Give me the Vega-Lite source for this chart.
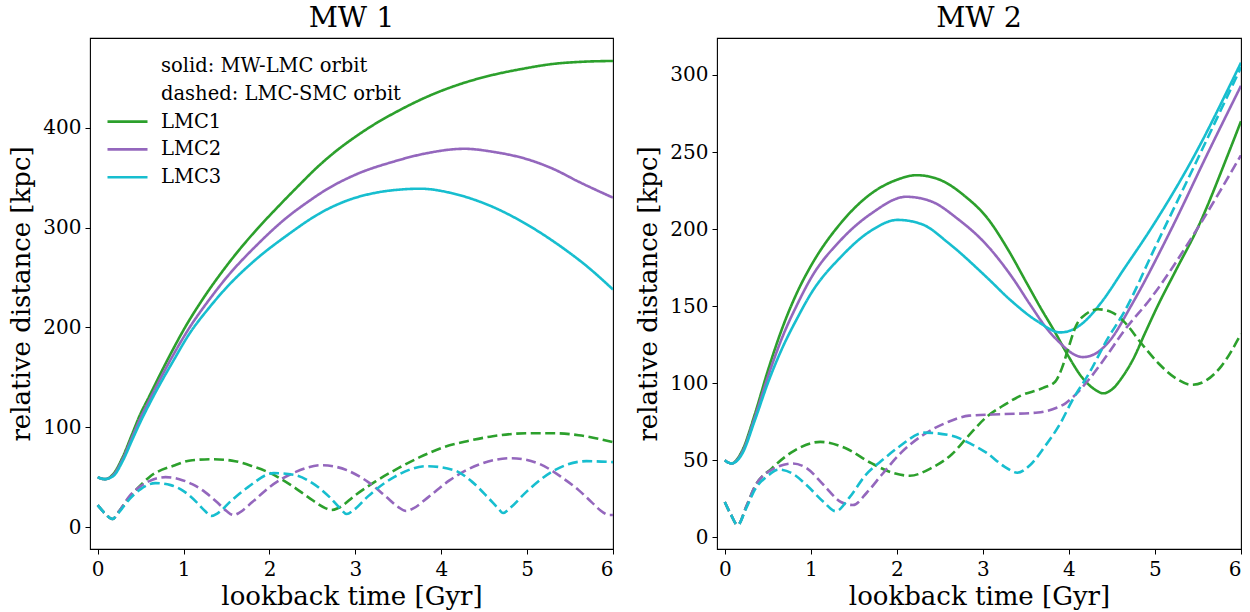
{
"$schema": "https://vega.github.io/schema/vega-lite/v6.json",
"padding": {"left": 8, "top": 2, "right": 5, "bottom": 5},
"background": "white",
"config": {
  "font": "DejaVu Serif",
  "view": {"stroke": "black", "strokeWidth": 1.1},
  "axis": {"grid": false, "domain": false, "tickColor": "black", "tickSize": 5, "tickWidth": 1, "labelFont": "DejaVu Serif", "labelFontSize": 20, "labelColor": "black", "labelPadding": 4, "titleFont": "DejaVu Serif", "titleFontSize": 26, "titleFontWeight": "normal", "titleColor": "black"},
  "axisY": {"titlePadding": 8},
  "axisX": {"labelPadding": 5, "titlePadding": 4},
  "title": {"font": "DejaVu Serif", "fontSize": 28.5, "fontWeight": "normal", "color": "black", "anchor": "middle", "offset": 6},
  "line": {"strokeWidth": 2.6, "interpolate": "monotone"}
},
"data": {"values": [
{"panel":"MW 1","model":"LMC1","orbit":"solid","t":0,"r":50},{"panel":"MW 1","model":"LMC1","orbit":"solid","t":0.08,"r":48},{"panel":"MW 1","model":"LMC1","orbit":"solid","t":0.18,"r":53},{"panel":"MW 1","model":"LMC1","orbit":"solid","t":0.29,"r":70},{"panel":"MW 1","model":"LMC1","orbit":"solid","t":0.4,"r":93},{"panel":"MW 1","model":"LMC1","orbit":"solid","t":0.49,"r":112},{"panel":"MW 1","model":"LMC1","orbit":"solid","t":0.6,"r":131},{"panel":"MW 1","model":"LMC1","orbit":"solid","t":0.75,"r":157},{"panel":"MW 1","model":"LMC1","orbit":"solid","t":0.87,"r":177},{"panel":"MW 1","model":"LMC1","orbit":"solid","t":1.03,"r":202},{"panel":"MW 1","model":"LMC1","orbit":"solid","t":1.22,"r":228},{"panel":"MW 1","model":"LMC1","orbit":"solid","t":1.45,"r":256},{"panel":"MW 1","model":"LMC1","orbit":"solid","t":1.65,"r":278},{"panel":"MW 1","model":"LMC1","orbit":"solid","t":1.85,"r":298},{"panel":"MW 1","model":"LMC1","orbit":"solid","t":2.1,"r":321},{"panel":"MW 1","model":"LMC1","orbit":"solid","t":2.35,"r":343},{"panel":"MW 1","model":"LMC1","orbit":"solid","t":2.55,"r":360},{"panel":"MW 1","model":"LMC1","orbit":"solid","t":2.75,"r":375},{"panel":"MW 1","model":"LMC1","orbit":"solid","t":3.0,"r":391},{"panel":"MW 1","model":"LMC1","orbit":"solid","t":3.25,"r":405},{"panel":"MW 1","model":"LMC1","orbit":"solid","t":3.5,"r":417},{"panel":"MW 1","model":"LMC1","orbit":"solid","t":3.78,"r":429},{"panel":"MW 1","model":"LMC1","orbit":"solid","t":4.0,"r":437},{"panel":"MW 1","model":"LMC1","orbit":"solid","t":4.3,"r":446},{"panel":"MW 1","model":"LMC1","orbit":"solid","t":4.6,"r":453},{"panel":"MW 1","model":"LMC1","orbit":"solid","t":4.94,"r":459},{"panel":"MW 1","model":"LMC1","orbit":"solid","t":5.3,"r":464},{"panel":"MW 1","model":"LMC1","orbit":"solid","t":5.6,"r":466},{"panel":"MW 1","model":"LMC1","orbit":"solid","t":6.0,"r":467},
{"panel":"MW 1","model":"LMC2","orbit":"solid","t":0,"r":50},{"panel":"MW 1","model":"LMC2","orbit":"solid","t":0.08,"r":48},{"panel":"MW 1","model":"LMC2","orbit":"solid","t":0.18,"r":52},{"panel":"MW 1","model":"LMC2","orbit":"solid","t":0.29,"r":68},{"panel":"MW 1","model":"LMC2","orbit":"solid","t":0.4,"r":90},{"panel":"MW 1","model":"LMC2","orbit":"solid","t":0.49,"r":108},{"panel":"MW 1","model":"LMC2","orbit":"solid","t":0.6,"r":127},{"panel":"MW 1","model":"LMC2","orbit":"solid","t":0.75,"r":152},{"panel":"MW 1","model":"LMC2","orbit":"solid","t":0.87,"r":171},{"panel":"MW 1","model":"LMC2","orbit":"solid","t":1.07,"r":200},{"panel":"MW 1","model":"LMC2","orbit":"solid","t":1.3,"r":228},{"panel":"MW 1","model":"LMC2","orbit":"solid","t":1.5,"r":250},{"panel":"MW 1","model":"LMC2","orbit":"solid","t":1.87,"r":284},{"panel":"MW 1","model":"LMC2","orbit":"solid","t":2.2,"r":310},{"panel":"MW 1","model":"LMC2","orbit":"solid","t":2.45,"r":326},{"panel":"MW 1","model":"LMC2","orbit":"solid","t":2.66,"r":338},{"panel":"MW 1","model":"LMC2","orbit":"solid","t":3.0,"r":353},{"panel":"MW 1","model":"LMC2","orbit":"solid","t":3.44,"r":366},{"panel":"MW 1","model":"LMC2","orbit":"solid","t":3.8,"r":374},{"panel":"MW 1","model":"LMC2","orbit":"solid","t":4.27,"r":379},{"panel":"MW 1","model":"LMC2","orbit":"solid","t":4.6,"r":376},{"panel":"MW 1","model":"LMC2","orbit":"solid","t":5.02,"r":368},{"panel":"MW 1","model":"LMC2","orbit":"solid","t":5.3,"r":359},{"panel":"MW 1","model":"LMC2","orbit":"solid","t":5.6,"r":346},{"panel":"MW 1","model":"LMC2","orbit":"solid","t":6.0,"r":330},
{"panel":"MW 1","model":"LMC3","orbit":"solid","t":0,"r":50},{"panel":"MW 1","model":"LMC3","orbit":"solid","t":0.08,"r":48},{"panel":"MW 1","model":"LMC3","orbit":"solid","t":0.18,"r":51},{"panel":"MW 1","model":"LMC3","orbit":"solid","t":0.29,"r":66},{"panel":"MW 1","model":"LMC3","orbit":"solid","t":0.4,"r":87},{"panel":"MW 1","model":"LMC3","orbit":"solid","t":0.49,"r":104},{"panel":"MW 1","model":"LMC3","orbit":"solid","t":0.6,"r":123},{"panel":"MW 1","model":"LMC3","orbit":"solid","t":0.75,"r":147},{"panel":"MW 1","model":"LMC3","orbit":"solid","t":0.87,"r":165},{"panel":"MW 1","model":"LMC3","orbit":"solid","t":1.07,"r":194},{"panel":"MW 1","model":"LMC3","orbit":"solid","t":1.3,"r":220},{"panel":"MW 1","model":"LMC3","orbit":"solid","t":1.5,"r":240},{"panel":"MW 1","model":"LMC3","orbit":"solid","t":1.84,"r":268},{"panel":"MW 1","model":"LMC3","orbit":"solid","t":2.2,"r":292},{"panel":"MW 1","model":"LMC3","orbit":"solid","t":2.62,"r":316},{"panel":"MW 1","model":"LMC3","orbit":"solid","t":2.9,"r":327},{"panel":"MW 1","model":"LMC3","orbit":"solid","t":3.24,"r":335},{"panel":"MW 1","model":"LMC3","orbit":"solid","t":3.5,"r":338},{"panel":"MW 1","model":"LMC3","orbit":"solid","t":3.76,"r":339},{"panel":"MW 1","model":"LMC3","orbit":"solid","t":4.1,"r":335},{"panel":"MW 1","model":"LMC3","orbit":"solid","t":4.35,"r":329},{"panel":"MW 1","model":"LMC3","orbit":"solid","t":4.62,"r":320},{"panel":"MW 1","model":"LMC3","orbit":"solid","t":5.0,"r":303},{"panel":"MW 1","model":"LMC3","orbit":"solid","t":5.41,"r":280},{"panel":"MW 1","model":"LMC3","orbit":"solid","t":5.7,"r":261},{"panel":"MW 1","model":"LMC3","orbit":"solid","t":6.0,"r":238},
{"panel":"MW 1","model":"LMC1","orbit":"dashed","t":0,"r":22},{"panel":"MW 1","model":"LMC1","orbit":"dashed","t":0.08,"r":14},{"panel":"MW 1","model":"LMC1","orbit":"dashed","t":0.17,"r":8},{"panel":"MW 1","model":"LMC1","orbit":"dashed","t":0.25,"r":16},{"panel":"MW 1","model":"LMC1","orbit":"dashed","t":0.37,"r":30},{"panel":"MW 1","model":"LMC1","orbit":"dashed","t":0.5,"r":42},{"panel":"MW 1","model":"LMC1","orbit":"dashed","t":0.6,"r":50},{"panel":"MW 1","model":"LMC1","orbit":"dashed","t":0.9,"r":62},{"panel":"MW 1","model":"LMC1","orbit":"dashed","t":1.1,"r":67},{"panel":"MW 1","model":"LMC1","orbit":"dashed","t":1.34,"r":68},{"panel":"MW 1","model":"LMC1","orbit":"dashed","t":1.6,"r":66},{"panel":"MW 1","model":"LMC1","orbit":"dashed","t":1.8,"r":61},{"panel":"MW 1","model":"LMC1","orbit":"dashed","t":2.01,"r":54},{"panel":"MW 1","model":"LMC1","orbit":"dashed","t":2.25,"r":42},{"panel":"MW 1","model":"LMC1","orbit":"dashed","t":2.45,"r":30},{"panel":"MW 1","model":"LMC1","orbit":"dashed","t":2.65,"r":19},{"panel":"MW 1","model":"LMC1","orbit":"dashed","t":2.72,"r":17},{"panel":"MW 1","model":"LMC1","orbit":"dashed","t":2.8,"r":19},{"panel":"MW 1","model":"LMC1","orbit":"dashed","t":3.0,"r":32},{"panel":"MW 1","model":"LMC1","orbit":"dashed","t":3.24,"r":46},{"panel":"MW 1","model":"LMC1","orbit":"dashed","t":3.5,"r":59},{"panel":"MW 1","model":"LMC1","orbit":"dashed","t":3.75,"r":70},{"panel":"MW 1","model":"LMC1","orbit":"dashed","t":4.03,"r":80},{"panel":"MW 1","model":"LMC1","orbit":"dashed","t":4.3,"r":86},{"panel":"MW 1","model":"LMC1","orbit":"dashed","t":4.6,"r":91},{"panel":"MW 1","model":"LMC1","orbit":"dashed","t":5.01,"r":94},{"panel":"MW 1","model":"LMC1","orbit":"dashed","t":5.3,"r":94},{"panel":"MW 1","model":"LMC1","orbit":"dashed","t":5.6,"r":92},{"panel":"MW 1","model":"LMC1","orbit":"dashed","t":6.0,"r":85},
{"panel":"MW 1","model":"LMC2","orbit":"dashed","t":0,"r":22},{"panel":"MW 1","model":"LMC2","orbit":"dashed","t":0.08,"r":14},{"panel":"MW 1","model":"LMC2","orbit":"dashed","t":0.17,"r":8},{"panel":"MW 1","model":"LMC2","orbit":"dashed","t":0.25,"r":16},{"panel":"MW 1","model":"LMC2","orbit":"dashed","t":0.37,"r":31},{"panel":"MW 1","model":"LMC2","orbit":"dashed","t":0.5,"r":41},{"panel":"MW 1","model":"LMC2","orbit":"dashed","t":0.6,"r":46},{"panel":"MW 1","model":"LMC2","orbit":"dashed","t":0.79,"r":50},{"panel":"MW 1","model":"LMC2","orbit":"dashed","t":0.95,"r":48},{"panel":"MW 1","model":"LMC2","orbit":"dashed","t":1.1,"r":43},{"panel":"MW 1","model":"LMC2","orbit":"dashed","t":1.25,"r":35},{"panel":"MW 1","model":"LMC2","orbit":"dashed","t":1.4,"r":24},{"panel":"MW 1","model":"LMC2","orbit":"dashed","t":1.5,"r":16},{"panel":"MW 1","model":"LMC2","orbit":"dashed","t":1.58,"r":12},{"panel":"MW 1","model":"LMC2","orbit":"dashed","t":1.66,"r":15},{"panel":"MW 1","model":"LMC2","orbit":"dashed","t":1.8,"r":25},{"panel":"MW 1","model":"LMC2","orbit":"dashed","t":2.0,"r":40},{"panel":"MW 1","model":"LMC2","orbit":"dashed","t":2.3,"r":55},{"panel":"MW 1","model":"LMC2","orbit":"dashed","t":2.61,"r":62},{"panel":"MW 1","model":"LMC2","orbit":"dashed","t":2.9,"r":57},{"panel":"MW 1","model":"LMC2","orbit":"dashed","t":3.15,"r":45},{"panel":"MW 1","model":"LMC2","orbit":"dashed","t":3.35,"r":31},{"panel":"MW 1","model":"LMC2","orbit":"dashed","t":3.5,"r":20},{"panel":"MW 1","model":"LMC2","orbit":"dashed","t":3.59,"r":16},{"panel":"MW 1","model":"LMC2","orbit":"dashed","t":3.68,"r":19},{"panel":"MW 1","model":"LMC2","orbit":"dashed","t":3.85,"r":30},{"panel":"MW 1","model":"LMC2","orbit":"dashed","t":4.1,"r":47},{"panel":"MW 1","model":"LMC2","orbit":"dashed","t":4.45,"r":63},{"panel":"MW 1","model":"LMC2","orbit":"dashed","t":4.82,"r":69},{"panel":"MW 1","model":"LMC2","orbit":"dashed","t":5.15,"r":63},{"panel":"MW 1","model":"LMC2","orbit":"dashed","t":5.4,"r":50},{"panel":"MW 1","model":"LMC2","orbit":"dashed","t":5.6,"r":37},{"panel":"MW 1","model":"LMC2","orbit":"dashed","t":5.75,"r":25},{"panel":"MW 1","model":"LMC2","orbit":"dashed","t":5.88,"r":15},{"panel":"MW 1","model":"LMC2","orbit":"dashed","t":5.96,"r":12},{"panel":"MW 1","model":"LMC2","orbit":"dashed","t":6.0,"r":12},
{"panel":"MW 1","model":"LMC3","orbit":"dashed","t":0,"r":22},{"panel":"MW 1","model":"LMC3","orbit":"dashed","t":0.08,"r":14},{"panel":"MW 1","model":"LMC3","orbit":"dashed","t":0.17,"r":8},{"panel":"MW 1","model":"LMC3","orbit":"dashed","t":0.25,"r":15},{"panel":"MW 1","model":"LMC3","orbit":"dashed","t":0.37,"r":28},{"panel":"MW 1","model":"LMC3","orbit":"dashed","t":0.5,"r":38},{"panel":"MW 1","model":"LMC3","orbit":"dashed","t":0.67,"r":44},{"panel":"MW 1","model":"LMC3","orbit":"dashed","t":0.85,"r":42},{"panel":"MW 1","model":"LMC3","orbit":"dashed","t":1.0,"r":36},{"panel":"MW 1","model":"LMC3","orbit":"dashed","t":1.15,"r":25},{"panel":"MW 1","model":"LMC3","orbit":"dashed","t":1.25,"r":16},{"panel":"MW 1","model":"LMC3","orbit":"dashed","t":1.32,"r":11},{"panel":"MW 1","model":"LMC3","orbit":"dashed","t":1.4,"r":14},{"panel":"MW 1","model":"LMC3","orbit":"dashed","t":1.55,"r":26},{"panel":"MW 1","model":"LMC3","orbit":"dashed","t":1.75,"r":40},{"panel":"MW 1","model":"LMC3","orbit":"dashed","t":2.05,"r":54},{"panel":"MW 1","model":"LMC3","orbit":"dashed","t":2.3,"r":52},{"panel":"MW 1","model":"LMC3","orbit":"dashed","t":2.5,"r":44},{"panel":"MW 1","model":"LMC3","orbit":"dashed","t":2.7,"r":30},{"panel":"MW 1","model":"LMC3","orbit":"dashed","t":2.82,"r":19},{"panel":"MW 1","model":"LMC3","orbit":"dashed","t":2.9,"r":13},{"panel":"MW 1","model":"LMC3","orbit":"dashed","t":2.98,"r":17},{"panel":"MW 1","model":"LMC3","orbit":"dashed","t":3.15,"r":31},{"panel":"MW 1","model":"LMC3","orbit":"dashed","t":3.45,"r":50},{"panel":"MW 1","model":"LMC3","orbit":"dashed","t":3.83,"r":61},{"panel":"MW 1","model":"LMC3","orbit":"dashed","t":4.15,"r":57},{"panel":"MW 1","model":"LMC3","orbit":"dashed","t":4.35,"r":46},{"panel":"MW 1","model":"LMC3","orbit":"dashed","t":4.55,"r":29},{"panel":"MW 1","model":"LMC3","orbit":"dashed","t":4.66,"r":19},{"panel":"MW 1","model":"LMC3","orbit":"dashed","t":4.72,"r":14},{"panel":"MW 1","model":"LMC3","orbit":"dashed","t":4.8,"r":19},{"panel":"MW 1","model":"LMC3","orbit":"dashed","t":5.0,"r":36},{"panel":"MW 1","model":"LMC3","orbit":"dashed","t":5.3,"r":56},{"panel":"MW 1","model":"LMC3","orbit":"dashed","t":5.69,"r":66},{"panel":"MW 1","model":"LMC3","orbit":"dashed","t":6.0,"r":65},
{"panel":"MW 2","model":"LMC1","orbit":"solid","t":0,"r":50},{"panel":"MW 2","model":"LMC1","orbit":"solid","t":0.08,"r":48},{"panel":"MW 2","model":"LMC1","orbit":"solid","t":0.2,"r":56},{"panel":"MW 2","model":"LMC1","orbit":"solid","t":0.35,"r":80},{"panel":"MW 2","model":"LMC1","orbit":"solid","t":0.5,"r":108},{"panel":"MW 2","model":"LMC1","orbit":"solid","t":0.67,"r":136},{"panel":"MW 2","model":"LMC1","orbit":"solid","t":0.85,"r":160},{"panel":"MW 2","model":"LMC1","orbit":"solid","t":1.0,"r":176},{"panel":"MW 2","model":"LMC1","orbit":"solid","t":1.35,"r":204},{"panel":"MW 2","model":"LMC1","orbit":"solid","t":1.7,"r":223},{"panel":"MW 2","model":"LMC1","orbit":"solid","t":2.0,"r":232},{"panel":"MW 2","model":"LMC1","orbit":"solid","t":2.23,"r":235},{"panel":"MW 2","model":"LMC1","orbit":"solid","t":2.5,"r":232},{"panel":"MW 2","model":"LMC1","orbit":"solid","t":2.8,"r":221},{"panel":"MW 2","model":"LMC1","orbit":"solid","t":3.04,"r":208},{"panel":"MW 2","model":"LMC1","orbit":"solid","t":3.3,"r":186},{"panel":"MW 2","model":"LMC1","orbit":"solid","t":3.5,"r":166},{"panel":"MW 2","model":"LMC1","orbit":"solid","t":3.66,"r":150},{"panel":"MW 2","model":"LMC1","orbit":"solid","t":3.84,"r":133},{"panel":"MW 2","model":"LMC1","orbit":"solid","t":4.0,"r":117},{"panel":"MW 2","model":"LMC1","orbit":"solid","t":4.15,"r":104},{"panel":"MW 2","model":"LMC1","orbit":"solid","t":4.3,"r":96},{"panel":"MW 2","model":"LMC1","orbit":"solid","t":4.4,"r":93.5},{"panel":"MW 2","model":"LMC1","orbit":"solid","t":4.5,"r":96},{"panel":"MW 2","model":"LMC1","orbit":"solid","t":4.62,"r":104},{"panel":"MW 2","model":"LMC1","orbit":"solid","t":4.75,"r":116},{"panel":"MW 2","model":"LMC1","orbit":"solid","t":4.88,"r":132},{"panel":"MW 2","model":"LMC1","orbit":"solid","t":5.03,"r":150},{"panel":"MW 2","model":"LMC1","orbit":"solid","t":5.25,"r":174},{"panel":"MW 2","model":"LMC1","orbit":"solid","t":5.49,"r":200},{"panel":"MW 2","model":"LMC1","orbit":"solid","t":5.86,"r":250},{"panel":"MW 2","model":"LMC1","orbit":"solid","t":6.0,"r":270},
{"panel":"MW 2","model":"LMC2","orbit":"solid","t":0,"r":50},{"panel":"MW 2","model":"LMC2","orbit":"solid","t":0.08,"r":48},{"panel":"MW 2","model":"LMC2","orbit":"solid","t":0.2,"r":55},{"panel":"MW 2","model":"LMC2","orbit":"solid","t":0.35,"r":78},{"panel":"MW 2","model":"LMC2","orbit":"solid","t":0.5,"r":104},{"panel":"MW 2","model":"LMC2","orbit":"solid","t":0.67,"r":130},{"panel":"MW 2","model":"LMC2","orbit":"solid","t":0.85,"r":152},{"panel":"MW 2","model":"LMC2","orbit":"solid","t":1.0,"r":168},{"panel":"MW 2","model":"LMC2","orbit":"solid","t":1.35,"r":193},{"panel":"MW 2","model":"LMC2","orbit":"solid","t":1.7,"r":210},{"panel":"MW 2","model":"LMC2","orbit":"solid","t":2.11,"r":221},{"panel":"MW 2","model":"LMC2","orbit":"solid","t":2.4,"r":218},{"panel":"MW 2","model":"LMC2","orbit":"solid","t":2.7,"r":207},{"panel":"MW 2","model":"LMC2","orbit":"solid","t":3.04,"r":190},{"panel":"MW 2","model":"LMC2","orbit":"solid","t":3.35,"r":168},{"panel":"MW 2","model":"LMC2","orbit":"solid","t":3.55,"r":151},{"panel":"MW 2","model":"LMC2","orbit":"solid","t":3.75,"r":135},{"panel":"MW 2","model":"LMC2","orbit":"solid","t":3.9,"r":126},{"panel":"MW 2","model":"LMC2","orbit":"solid","t":4.05,"r":119},{"panel":"MW 2","model":"LMC2","orbit":"solid","t":4.16,"r":117},{"panel":"MW 2","model":"LMC2","orbit":"solid","t":4.3,"r":119},{"panel":"MW 2","model":"LMC2","orbit":"solid","t":4.48,"r":128},{"panel":"MW 2","model":"LMC2","orbit":"solid","t":4.72,"r":150},{"panel":"MW 2","model":"LMC2","orbit":"solid","t":5.19,"r":200},{"panel":"MW 2","model":"LMC2","orbit":"solid","t":5.62,"r":250},{"panel":"MW 2","model":"LMC2","orbit":"solid","t":6.0,"r":293},
{"panel":"MW 2","model":"LMC3","orbit":"solid","t":0,"r":50},{"panel":"MW 2","model":"LMC3","orbit":"solid","t":0.08,"r":48},{"panel":"MW 2","model":"LMC3","orbit":"solid","t":0.2,"r":54},{"panel":"MW 2","model":"LMC3","orbit":"solid","t":0.35,"r":76},{"panel":"MW 2","model":"LMC3","orbit":"solid","t":0.5,"r":100},{"panel":"MW 2","model":"LMC3","orbit":"solid","t":0.67,"r":123},{"panel":"MW 2","model":"LMC3","orbit":"solid","t":0.85,"r":143},{"panel":"MW 2","model":"LMC3","orbit":"solid","t":1.0,"r":158},{"panel":"MW 2","model":"LMC3","orbit":"solid","t":1.35,"r":182},{"panel":"MW 2","model":"LMC3","orbit":"solid","t":1.7,"r":199},{"panel":"MW 2","model":"LMC3","orbit":"solid","t":2.01,"r":206},{"panel":"MW 2","model":"LMC3","orbit":"solid","t":2.3,"r":203},{"panel":"MW 2","model":"LMC3","orbit":"solid","t":2.6,"r":191},{"panel":"MW 2","model":"LMC3","orbit":"solid","t":3.04,"r":169},{"panel":"MW 2","model":"LMC3","orbit":"solid","t":3.32,"r":154},{"panel":"MW 2","model":"LMC3","orbit":"solid","t":3.64,"r":140},{"panel":"MW 2","model":"LMC3","orbit":"solid","t":3.9,"r":133},{"panel":"MW 2","model":"LMC3","orbit":"solid","t":4.05,"r":135},{"panel":"MW 2","model":"LMC3","orbit":"solid","t":4.2,"r":141},{"panel":"MW 2","model":"LMC3","orbit":"solid","t":4.37,"r":152},{"panel":"MW 2","model":"LMC3","orbit":"solid","t":4.65,"r":175},{"panel":"MW 2","model":"LMC3","orbit":"solid","t":4.95,"r":200},{"panel":"MW 2","model":"LMC3","orbit":"solid","t":5.48,"r":250},{"panel":"MW 2","model":"LMC3","orbit":"solid","t":5.93,"r":300},{"panel":"MW 2","model":"LMC3","orbit":"solid","t":6.0,"r":308},
{"panel":"MW 2","model":"LMC1","orbit":"dashed","t":0,"r":23},{"panel":"MW 2","model":"LMC1","orbit":"dashed","t":0.07,"r":15},{"panel":"MW 2","model":"LMC1","orbit":"dashed","t":0.15,"r":8},{"panel":"MW 2","model":"LMC1","orbit":"dashed","t":0.25,"r":20},{"panel":"MW 2","model":"LMC1","orbit":"dashed","t":0.35,"r":33},{"panel":"MW 2","model":"LMC1","orbit":"dashed","t":0.55,"r":45},{"panel":"MW 2","model":"LMC1","orbit":"dashed","t":0.8,"r":56},{"panel":"MW 2","model":"LMC1","orbit":"dashed","t":1.11,"r":62},{"panel":"MW 2","model":"LMC1","orbit":"dashed","t":1.4,"r":58},{"panel":"MW 2","model":"LMC1","orbit":"dashed","t":1.71,"r":48},{"panel":"MW 2","model":"LMC1","orbit":"dashed","t":1.95,"r":42},{"panel":"MW 2","model":"LMC1","orbit":"dashed","t":2.15,"r":40},{"panel":"MW 2","model":"LMC1","orbit":"dashed","t":2.4,"r":45},{"panel":"MW 2","model":"LMC1","orbit":"dashed","t":2.64,"r":54},{"panel":"MW 2","model":"LMC1","orbit":"dashed","t":2.85,"r":67},{"panel":"MW 2","model":"LMC1","orbit":"dashed","t":3.04,"r":78},{"panel":"MW 2","model":"LMC1","orbit":"dashed","t":3.25,"r":86},{"panel":"MW 2","model":"LMC1","orbit":"dashed","t":3.44,"r":92},{"panel":"MW 2","model":"LMC1","orbit":"dashed","t":3.7,"r":97},{"panel":"MW 2","model":"LMC1","orbit":"dashed","t":3.84,"r":101},{"panel":"MW 2","model":"LMC1","orbit":"dashed","t":3.92,"r":110},{"panel":"MW 2","model":"LMC1","orbit":"dashed","t":4.0,"r":124},{"panel":"MW 2","model":"LMC1","orbit":"dashed","t":4.08,"r":137},{"panel":"MW 2","model":"LMC1","orbit":"dashed","t":4.2,"r":145},{"panel":"MW 2","model":"LMC1","orbit":"dashed","t":4.34,"r":148},{"panel":"MW 2","model":"LMC1","orbit":"dashed","t":4.5,"r":146},{"panel":"MW 2","model":"LMC1","orbit":"dashed","t":4.64,"r":140},{"panel":"MW 2","model":"LMC1","orbit":"dashed","t":4.84,"r":126},{"panel":"MW 2","model":"LMC1","orbit":"dashed","t":5.04,"r":113},{"panel":"MW 2","model":"LMC1","orbit":"dashed","t":5.25,"r":103},{"panel":"MW 2","model":"LMC1","orbit":"dashed","t":5.43,"r":99},{"panel":"MW 2","model":"LMC1","orbit":"dashed","t":5.6,"r":102},{"panel":"MW 2","model":"LMC1","orbit":"dashed","t":5.77,"r":111},{"panel":"MW 2","model":"LMC1","orbit":"dashed","t":6.0,"r":132},
{"panel":"MW 2","model":"LMC2","orbit":"dashed","t":0,"r":23},{"panel":"MW 2","model":"LMC2","orbit":"dashed","t":0.07,"r":15},{"panel":"MW 2","model":"LMC2","orbit":"dashed","t":0.15,"r":8},{"panel":"MW 2","model":"LMC2","orbit":"dashed","t":0.25,"r":20},{"panel":"MW 2","model":"LMC2","orbit":"dashed","t":0.35,"r":33},{"panel":"MW 2","model":"LMC2","orbit":"dashed","t":0.55,"r":44},{"panel":"MW 2","model":"LMC2","orbit":"dashed","t":0.79,"r":48},{"panel":"MW 2","model":"LMC2","orbit":"dashed","t":0.95,"r":45},{"panel":"MW 2","model":"LMC2","orbit":"dashed","t":1.15,"r":34},{"panel":"MW 2","model":"LMC2","orbit":"dashed","t":1.35,"r":23},{"panel":"MW 2","model":"LMC2","orbit":"dashed","t":1.49,"r":21},{"panel":"MW 2","model":"LMC2","orbit":"dashed","t":1.65,"r":29},{"panel":"MW 2","model":"LMC2","orbit":"dashed","t":1.83,"r":41},{"panel":"MW 2","model":"LMC2","orbit":"dashed","t":2.05,"r":55},{"panel":"MW 2","model":"LMC2","orbit":"dashed","t":2.32,"r":67},{"panel":"MW 2","model":"LMC2","orbit":"dashed","t":2.6,"r":75},{"panel":"MW 2","model":"LMC2","orbit":"dashed","t":2.84,"r":79},{"panel":"MW 2","model":"LMC2","orbit":"dashed","t":3.24,"r":80},{"panel":"MW 2","model":"LMC2","orbit":"dashed","t":3.64,"r":81},{"panel":"MW 2","model":"LMC2","orbit":"dashed","t":3.85,"r":84},{"panel":"MW 2","model":"LMC2","orbit":"dashed","t":3.96,"r":87},{"panel":"MW 2","model":"LMC2","orbit":"dashed","t":4.1,"r":94},{"panel":"MW 2","model":"LMC2","orbit":"dashed","t":4.24,"r":103},{"panel":"MW 2","model":"LMC2","orbit":"dashed","t":4.44,"r":118},{"panel":"MW 2","model":"LMC2","orbit":"dashed","t":4.64,"r":134},{"panel":"MW 2","model":"LMC2","orbit":"dashed","t":4.95,"r":155},{"panel":"MW 2","model":"LMC2","orbit":"dashed","t":5.5,"r":201},{"panel":"MW 2","model":"LMC2","orbit":"dashed","t":6.0,"r":248},
{"panel":"MW 2","model":"LMC3","orbit":"dashed","t":0,"r":23},{"panel":"MW 2","model":"LMC3","orbit":"dashed","t":0.07,"r":15},{"panel":"MW 2","model":"LMC3","orbit":"dashed","t":0.15,"r":8},{"panel":"MW 2","model":"LMC3","orbit":"dashed","t":0.25,"r":19},{"panel":"MW 2","model":"LMC3","orbit":"dashed","t":0.35,"r":31},{"panel":"MW 2","model":"LMC3","orbit":"dashed","t":0.5,"r":40},{"panel":"MW 2","model":"LMC3","orbit":"dashed","t":0.63,"r":44},{"panel":"MW 2","model":"LMC3","orbit":"dashed","t":0.8,"r":41},{"panel":"MW 2","model":"LMC3","orbit":"dashed","t":0.95,"r":34},{"panel":"MW 2","model":"LMC3","orbit":"dashed","t":1.15,"r":23},{"panel":"MW 2","model":"LMC3","orbit":"dashed","t":1.29,"r":17},{"panel":"MW 2","model":"LMC3","orbit":"dashed","t":1.45,"r":26},{"panel":"MW 2","model":"LMC3","orbit":"dashed","t":1.63,"r":40},{"panel":"MW 2","model":"LMC3","orbit":"dashed","t":1.85,"r":51},{"panel":"MW 2","model":"LMC3","orbit":"dashed","t":2.03,"r":59},{"panel":"MW 2","model":"LMC3","orbit":"dashed","t":2.32,"r":68},{"panel":"MW 2","model":"LMC3","orbit":"dashed","t":2.64,"r":66},{"panel":"MW 2","model":"LMC3","orbit":"dashed","t":2.85,"r":61},{"panel":"MW 2","model":"LMC3","orbit":"dashed","t":3.04,"r":55},{"panel":"MW 2","model":"LMC3","orbit":"dashed","t":3.25,"r":46},{"panel":"MW 2","model":"LMC3","orbit":"dashed","t":3.4,"r":42},{"panel":"MW 2","model":"LMC3","orbit":"dashed","t":3.55,"r":47},{"panel":"MW 2","model":"LMC3","orbit":"dashed","t":3.72,"r":59},{"panel":"MW 2","model":"LMC3","orbit":"dashed","t":3.9,"r":74},{"panel":"MW 2","model":"LMC3","orbit":"dashed","t":4.04,"r":89},{"panel":"MW 2","model":"LMC3","orbit":"dashed","t":4.24,"r":107},{"panel":"MW 2","model":"LMC3","orbit":"dashed","t":4.44,"r":128},{"panel":"MW 2","model":"LMC3","orbit":"dashed","t":4.64,"r":146},{"panel":"MW 2","model":"LMC3","orbit":"dashed","t":5.0,"r":188},{"panel":"MW 2","model":"LMC3","orbit":"dashed","t":5.5,"r":246},{"panel":"MW 2","model":"LMC3","orbit":"dashed","t":6.0,"r":305}
]},
"spacing": 20,
"resolve": {"scale": {"y": "independent"}, "legend": {"color": "independent"}},
"hconcat": [
  {
    "title": "MW 1",
    "width": 523, "height": 511,
    "transform": [{"filter": "datum.panel == 'MW 1'"}],
    "mark": {"type": "line", "clip": true},
    "encoding": {
      "x": {"field": "t", "type": "quantitative", "scale": {"domain": [-0.09, 6], "nice": false, "zero": false}, "axis": {"values": [0,1,2,3,4,5,6], "title": "lookback time [Gyr]"}},
      "y": {"field": "r", "type": "quantitative", "scale": {"domain": [-22, 490], "nice": false, "zero": false}, "axis": {"values": [0,100,200,300,400], "title": "relative distance [kpc]"}},
      "color": {"field": "model", "type": "nominal", "scale": {"domain": ["solid: MW-LMC orbit", "dashed: LMC-SMC orbit", "LMC1", "LMC2", "LMC3"], "range": ["rgba(0,0,0,0)", "rgba(0,0,0,0)", "#2ca02c", "#9467bd", "#17becf"]},
        "legend": {"title": null, "orient": "top-left", "offset": 16, "padding": 0, "symbolType": "stroke", "symbolSize": 1600, "symbolStrokeWidth": 3, "clipHeight": 24, "rowPadding": 3.8, "labelOffset": 12, "labelFont": "DejaVu Serif", "labelFontSize": 19.5, "labelColor": "black", "labelLimit": 400}},
      "strokeDash": {"field": "orbit", "type": "nominal", "scale": {"domain": ["solid", "dashed"], "range": [[1, 0], [10, 4.5]]}, "legend": null}
    }
  },
  {
    "title": "MW 2",
    "width": 524, "height": 511,
    "transform": [{"filter": "datum.panel == 'MW 2'"}],
    "mark": {"type": "line", "clip": true},
    "encoding": {
      "x": {"field": "t", "type": "quantitative", "scale": {"domain": [-0.09, 6], "nice": false, "zero": false}, "axis": {"values": [0,1,2,3,4,5,6], "title": "lookback time [Gyr]"}},
      "y": {"field": "r", "type": "quantitative", "scale": {"domain": [-7.5, 324], "nice": false, "zero": false}, "axis": {"values": [0,50,100,150,200,250,300], "title": "relative distance [kpc]"}},
      "color": {"field": "model", "type": "nominal", "scale": {"domain": ["solid: MW-LMC orbit", "dashed: LMC-SMC orbit", "LMC1", "LMC2", "LMC3"], "range": ["rgba(0,0,0,0)", "rgba(0,0,0,0)", "#2ca02c", "#9467bd", "#17becf"]}, "legend": null},
      "strokeDash": {"field": "orbit", "type": "nominal", "scale": {"domain": ["solid", "dashed"], "range": [[1, 0], [10, 4.5]]}, "legend": null}
    }
  }
]
}
